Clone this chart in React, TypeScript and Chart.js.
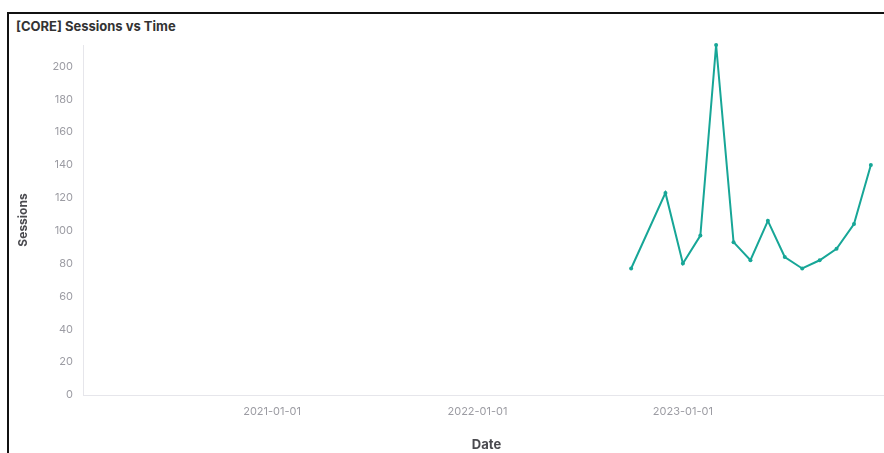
import React, { useEffect, useRef } from 'react';
import { Chart, registerables } from 'chart.js';

Chart.register(...registerables);

// ---- data ----
const chartTitle = '[CORE] Sessions vs Time';
const xAxisTitle = 'Date';
const yAxisTitle = 'Sessions';

const dates = [
  '2022-10-01',
  '2022-12-01',
  '2023-01-01',
  '2023-02-01',
  '2023-03-01',
  '2023-04-01',
  '2023-05-01',
  '2023-06-01',
  '2023-07-01',
  '2023-08-01',
  '2023-09-01',
  '2023-10-01',
  '2023-11-01',
  '2023-12-01',
];
const sessions = [77, 123, 80, 97, 213, 93, 82, 106, 84, 77, 82, 89, 104, 140];

const xTickLabels = ['2021-01-01', '2022-01-01', '2023-01-01'];
const xRangeStart = '2020-01-31';
const xRangeEnd = '2024-01-04';
const yTickStep = 20;

const toTime = (s: string) => Date.parse(s + 'T00:00:00Z');
const fmtDate = (v: number) => new Date(v).toISOString().slice(0, 10);

const FONT = 'Inter, "Noto Sans", sans-serif';

export default function App() {
  const ref = useRef<HTMLCanvasElement | null>(null);

  useEffect(() => {
    if (!ref.current) return;
    const points = dates.map((d, i) => ({ x: toTime(d), y: sessions[i] }));
    const chart = new Chart(ref.current, {
      type: 'line',
      data: {
        datasets: [
          {
            label: yAxisTitle,
            data: points,
            borderColor: '#17a697',
            backgroundColor: '#17a697',
            borderWidth: 2,
            pointRadius: 2,
            pointHoverRadius: 3,
            pointBorderWidth: 0,
            tension: 0,
            fill: false,
            clip: false,
          },
        ],
      },
      options: {
        responsive: false,
        animation: false,
        layout: { padding: { left: 7, top: 31, right: 9, bottom: 9 } },
        plugins: {
          legend: { display: false },
          tooltip: { enabled: false },
          title: { display: false },
        },
        scales: {
          x: {
            type: 'linear',
            min: toTime(xRangeStart),
            max: toTime(xRangeEnd),
            grid: { display: false, drawTicks: false },
            border: { display: true, color: '#e6e6eb', width: 1 },
            afterBuildTicks: (scale: any) => {
              scale.ticks = xTickLabels.map((t) => ({ value: toTime(t) }));
            },
            afterFit: (scale: any) => {
              scale.height = 60;
            },
            ticks: {
              padding: 10,
              color: '#9c9ca3',
              font: { family: FONT, size: 11 },
              maxRotation: 0,
              autoSkip: false,
              callback: (v: any) => fmtDate(Number(v)),
            },
            title: {
              display: true,
              text: xAxisTitle,
              color: '#4a4a4f',
              font: { family: FONT, size: 13, weight: 'bold' },
              padding: { top: 0, bottom: 2 },
            },
          },
          y: {
            type: 'linear',
            min: 0,
            max: Math.max(...sessions),
            grid: { display: false, drawTicks: false },
            border: { display: true, color: '#e6e6eb', width: 1 },
            afterFit: (scale: any) => {
              scale.width = 67;
            },
            ticks: {
              stepSize: yTickStep,
              includeBounds: false,
              padding: 10,
              color: '#9c9ca3',
              font: { family: FONT, size: 11 },
            },
            title: {
              display: true,
              text: yAxisTitle,
              color: '#4a4a4f',
              font: { family: FONT, size: 12, weight: 'bold' },
              padding: { top: 0, bottom: 0 },
            },
          },
        },
      },
    });
    return () => chart.destroy();
  }, []);

  return (
    <div
      style={{
        position: 'fixed',
        left: 7,
        top: 12,
        width: 920,
        height: 470,
        border: '2px solid #111',
        boxSizing: 'border-box',
        background: '#fff',
        fontFamily: FONT,
      }}
    >
      <div
        style={{
          position: 'absolute',
          left: 7,
          top: 3,
          fontSize: 13,
          lineHeight: '18px',
          fontWeight: 700,
          color: '#333',
          whiteSpace: 'nowrap',
        }}
      >
        {chartTitle}
      </div>
      <canvas
        ref={ref}
        width={890}
        height={450}
        style={{ position: 'absolute', left: 0, top: 0, width: 890, height: 450 }}
      />
    </div>
  );
}
